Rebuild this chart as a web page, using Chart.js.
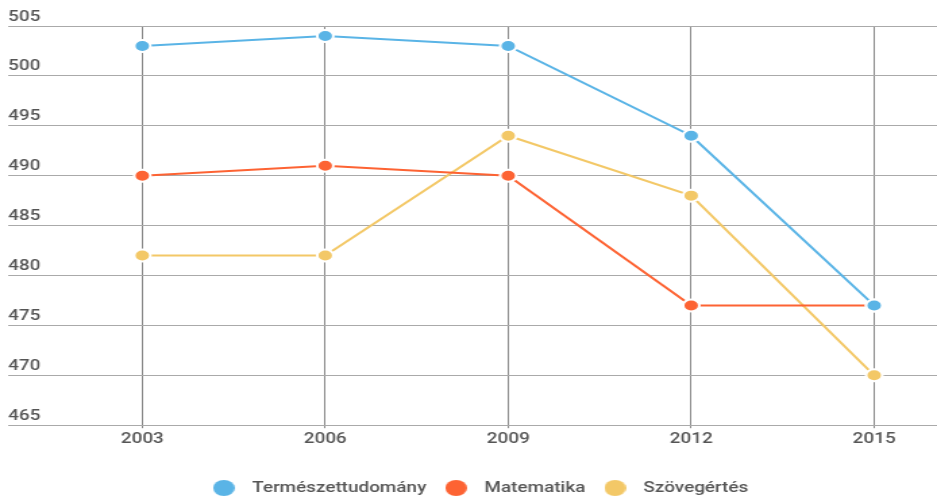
<!DOCTYPE html>
<html>
<head>
<meta charset="utf-8">
<script src="https://cdn.jsdelivr.net/npm/chart.js@4"></script>
<style>
  html, body { margin: 0; padding: 0; background: #fff; }
  #wrap { width: 937px; height: 498px; overflow: hidden; }
  /* the original image is stretched sideways, so draw narrow and widen */
  #myChart { width: 937px !important; height: 498px !important; display: block; }
</style>
</head>
<body>
<div id="wrap"><canvas id="myChart" width="694" height="498"></canvas></div>
<script>
var years = [2003, 2006, 2009, 2012, 2015];
var yTicks = [465, 470, 475, 480, 485, 490, 495, 500, 505];

var termeszet = [503, 504, 503, 494, 477];
var matek = [490, 491, 490, 477, 477];
var szoveg = [482, 482, 494, 488, 470];

function pts(vals) {
  return years.map(function (y, i) { return { x: y, y: vals[i] }; });
}

function line(label, vals, color) {
  return {
    label: label,
    data: pts(vals),
    borderColor: color,
    backgroundColor: color,
    borderWidth: 2,
    pointRadius: 6,
    pointBorderColor: "#fff",
    pointBorderWidth: 2,
    tension: 0
  };
}

// small round swatch for the legend, so the gap to the text can be wider
function dot(color) {
  var c = document.createElement("canvas");
  c.width = 16;
  c.height = 16;
  var g = c.getContext("2d");
  g.fillStyle = color;
  g.beginPath();
  g.arc(8, 8, 8, 0, Math.PI * 2);
  g.fill();
  return c;
}

// legend sits a bit right of centre in the original
var legendShift = {
  id: "legendShift",
  afterLayout: function (chart) {
    chart.legend.left += 3;
    chart.legend.right += 3;
  }
};

var ctx = document.getElementById("myChart");
var myChart = new Chart(ctx, {
  type: "line",
  data: {
    datasets: [
      line("Természettudomány", termeszet, "#5ab4e6"),
      line("Matematika", matek, "#fd6333"),
      line("Szövegértés", szoveg, "#f3c867")
    ]
  },
  plugins: [legendShift],
  options: {
    responsive: false,
    animation: false,
    layout: { autoPadding: false, padding: { left: 6, top: 26, right: 0, bottom: -7 } },
    plugins: {
      tooltip: { enabled: false },
      legend: {
        position: "bottom",
        labels: {
          usePointStyle: true,
          pointStyleWidth: 28,
          boxHeight: 11.3,
          padding: 8,
          color: "#555",
          font: { family: "Roboto", size: 14, weight: "500" },
          generateLabels: function (chart) {
            var items = Chart.defaults.plugins.legend.labels.generateLabels(chart);
            items.forEach(function (it) { it.pointStyle = dot(it.fillStyle); });
            return items;
          }
        }
      }
    },
    scales: {
      x: {
        type: "linear",
        min: 2000.8,
        max: 2016.03,
        afterBuildTicks: function (axis) {
          axis.ticks = years.map(function (y) { return { value: y }; });
        },
        afterFit: function (axis) { axis.height += 22; },
        grid: { color: "#888", drawTicks: true, tickLength: 3 },
        border: { display: false },
        ticks: {
          color: "#555",
          padding: 3,
          font: { family: "Roboto", size: 14, weight: "500" },
          callback: function (v) { return String(v); }
        }
      },
      y: {
        min: 465,
        max: 505,
        afterBuildTicks: function (axis) {
          axis.ticks = yTicks.map(function (v) { return { value: v }; });
        },
        afterFit: function (axis) { axis.width = 0; },
        grid: { color: "#aaa", drawTicks: false },
        border: { display: false },
        ticks: {
          mirror: true,
          padding: 0,
          labelOffset: -9,
          color: "#555",
          font: { family: "Roboto", size: 14, weight: "500" }
        }
      }
    }
  }
});
</script>
</body>
</html>
